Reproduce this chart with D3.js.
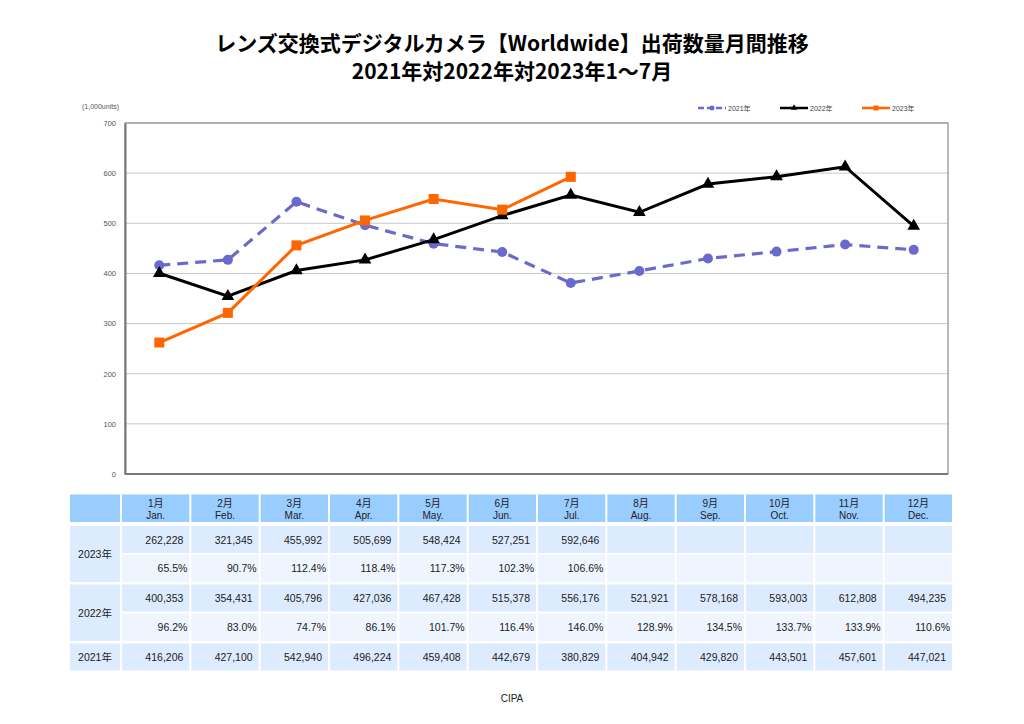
<!DOCTYPE html>
<html><head><meta charset="utf-8">
<script src="https://cdn.jsdelivr.net/npm/d3@7"></script>
<style>
body{margin:0;background:#fff;}
svg{display:block;}
</style></head>
<body><svg id="c" width="1024" height="724"></svg>
<script>
const monthsJa = ["1月","2月","3月","4月","5月","6月","7月","8月","9月","10月","11月","12月"];
const monthsEn = ["Jan.","Feb.","Mar.","Apr.","May.","Jun.","Jul.","Aug.","Sep.","Oct.","Nov.","Dec."];
const v2021 = [416206,427100,542940,496224,459408,442679,380829,404942,429820,443501,457601,447021];
const v2022 = [400353,354431,405796,427036,467428,515378,556176,521921,578168,593003,612808,494235];
const v2023 = [262228,321345,455992,505699,548424,527251,592646];
const p2022 = ["96.2%","83.0%","74.7%","86.1%","101.7%","116.4%","146.0%","128.9%","134.5%","133.7%","133.9%","110.6%"];
const p2023 = ["65.5%","90.7%","112.4%","118.4%","117.3%","102.3%","106.6%"];
const yTicks = [0,100,200,300,400,500,600,700];
const seriesNames = ["2021年","2022年","2023年"];
const titleLines = ["レンズ交換式デジタルカメラ【Worldwide】出荷数量月間推移","2021年対2022年対2023年1～7月"];

const svg = d3.select("#c");
const FONT = "'Liberation Sans','Noto Sans CJK JP',sans-serif";
const JFONT = "'Noto Sans CJK JP',sans-serif";

// Title
svg.selectAll("text.title").data(titleLines).join("text")
  .attr("x",512).attr("y",(d,i)=>51+i*28)
  .attr("text-anchor","middle")
  .style("font-family",JFONT).style("font-weight","bold").style("font-size","21px")
  .text(d=>d);

// Plot
const L=125,R=948,T=123,B=474;
const x = d3.scaleBand().domain(d3.range(12)).range([L,R]);
const y = d3.scaleLinear().domain([0,700]).range([B,T]);
const cx = i=>x(i)+x.bandwidth()/2;

// gridlines
svg.append("g").selectAll("line").data(yTicks.filter(t=>t>0)).join("line")
  .attr("x1",L).attr("x2",R).attr("y1",d=>y(d)).attr("y2",d=>y(d))
  .attr("stroke","#c8c8c8").attr("stroke-width",1);
// border
svg.append("rect").attr("x",L).attr("y",T).attr("width",R-L).attr("height",B-T)
  .attr("fill","none").attr("stroke","#8c8c8c").attr("stroke-width",1.2);
// y-axis
const ya = svg.append("g").attr("transform",`translate(${L},0)`)
  .call(d3.axisLeft(y).tickValues(yTicks).tickSize(0).tickPadding(9));
ya.select(".domain").attr("stroke","#777").attr("stroke-width",2);
ya.selectAll("text").style("font-family",FONT).style("font-size","7.5px").attr("fill","#555");
svg.append("line").attr("x1",L).attr("x2",R).attr("y1",B).attr("y2",B).attr("stroke","#777").attr("stroke-width",2);

svg.append("text").attr("x",82).attr("y",109).style("font-family",FONT).style("font-size","7px").attr("fill","#555").text("(1,000units)");

const line = d3.line().x((d,i)=>cx(i)).y(d=>y(d/1000));
const C21="#6a6acd", C22="#000", C23="#ff6600";

svg.append("path").datum(v2021).attr("d",line).attr("fill","none")
  .attr("stroke",C21).attr("stroke-width",3.2).attr("stroke-dasharray","11,7");
svg.append("path").datum(v2022).attr("d",line).attr("fill","none")
  .attr("stroke",C22).attr("stroke-width",3);
svg.append("path").datum(v2023).attr("d",line).attr("fill","none")
  .attr("stroke",C23).attr("stroke-width",3);

svg.append("g").selectAll("circle").data(v2021).join("circle")
  .attr("cx",(d,i)=>cx(i)).attr("cy",d=>y(d/1000)).attr("r",5).attr("fill",C21);
const tri = d3.symbol().type(d3.symbolTriangle).size(70);
svg.append("g").selectAll("path").data(v2022).join("path")
  .attr("d",tri).attr("transform",(d,i)=>`translate(${cx(i)},${y(d/1000)})`).attr("fill",C22);
svg.append("g").selectAll("rect").data(v2023).join("rect")
  .attr("x",(d,i)=>cx(i)-5).attr("y",d=>y(d/1000)-5).attr("width",10).attr("height",10).attr("fill",C23);

// legend
const lg = [{n:seriesNames[0],c:C21,x:698,dash:"6,3",m:"c"},{n:seriesNames[1],c:C22,x:780,dash:null,m:"t"},{n:seriesNames[2],c:C23,x:862,dash:null,m:"s"}];
const lgG = svg.append("g");
lg.forEach(d=>{
  const l = lgG.append("line").attr("x1",d.x).attr("x2",d.x+28).attr("y1",108).attr("y2",108).attr("stroke",d.c).attr("stroke-width",2.5);
  if(d.dash) l.attr("stroke-dasharray",d.dash);
  if(d.m==="c") lgG.append("circle").attr("cx",d.x+14).attr("cy",108).attr("r",2.5).attr("fill",d.c);
  if(d.m==="t") lgG.append("path").attr("d",d3.symbol().type(d3.symbolTriangle).size(18)).attr("transform",`translate(${d.x+14},108)`).attr("fill",d.c);
  if(d.m==="s") lgG.append("rect").attr("x",d.x+11.5).attr("y",105.5).attr("width",5).attr("height",5).attr("fill",d.c);
  lgG.append("text").attr("x",d.x+30).attr("y",110.5).style("font-family",FONT).style("font-size","7px").attr("fill","#444").text(d.n);
});

// Table
const HDR="#99ccff", VAL="#ddebff", PCT="#eef5ff";
const tx = d3.scaleBand().domain(d3.range(12)).range([121,953]).paddingInner(0);
const colX = i=>tx(i)+1, colW = tx.bandwidth()-2;
const rows = [
  {y:494.5,h:27.5},  // header
  {y:526,h:27},      // 2023 val
  {y:554.5,h:27.5},  // 2023 pct
  {y:584.5,h:27},    // 2022 val
  {y:613.5,h:27.5},  // 2022 pct
  {y:643.5,h:27}     // 2021
];
const tg = svg.append("g");
const fmt = d3.format(",");
// first column
tg.append("rect").attr("x",70).attr("y",rows[0].y).attr("width",50).attr("height",rows[0].h).attr("fill",HDR);
tg.append("rect").attr("x",70).attr("y",rows[1].y).attr("width",50).attr("height",rows[2].y+rows[2].h-rows[1].y).attr("fill",VAL);
tg.append("rect").attr("x",70).attr("y",rows[3].y).attr("width",50).attr("height",rows[4].y+rows[4].h-rows[3].y).attr("fill",VAL);
tg.append("rect").attr("x",70).attr("y",rows[5].y).attr("width",50).attr("height",rows[5].h).attr("fill",VAL);
const lbl = [{t:seriesNames[2],y:(rows[1].y+rows[2].y+rows[2].h)/2},{t:seriesNames[1],y:(rows[3].y+rows[4].y+rows[4].h)/2},{t:seriesNames[0],y:rows[5].y+rows[5].h/2}];
tg.selectAll("text.lbl").data(lbl).join("text").attr("x",95).attr("y",d=>d.y+4)
  .attr("text-anchor","middle").style("font-family",FONT).style("font-size","10.5px").attr("fill","#222").text(d=>d.t);

const rowFill=[HDR,VAL,PCT,VAL,PCT,VAL];
rows.forEach((r,ri)=>{
  tg.append("g").selectAll("rect").data(d3.range(12)).join("rect")
    .attr("x",i=>colX(i)).attr("y",r.y).attr("width",colW).attr("height",r.h).attr("fill",rowFill[ri]);
});
// header text
tg.append("g").selectAll("text").data(d3.range(12)).join("text")
  .attr("x",i=>colX(i)+colW/2).attr("y",rows[0].y+12).attr("text-anchor","middle")
  .style("font-family",FONT).style("font-size","10px").attr("fill","#222").text(i=>monthsJa[i]);
tg.append("g").selectAll("text").data(d3.range(12)).join("text")
  .attr("x",i=>colX(i)+colW/2).attr("y",rows[0].y+24).attr("text-anchor","middle")
  .style("font-family",FONT).style("font-size","10px").attr("fill","#222").text(i=>monthsEn[i]);

function rowText(data, ri, f, pad){
  tg.append("g").selectAll("text").data(data).join("text")
    .attr("x",(d,i)=>colX(i)+colW-pad).attr("y",rows[ri].y+rows[ri].h/2+4).attr("text-anchor","end")
    .style("font-family",FONT).style("font-size","10.5px").attr("fill","#222").text(f);
}
rowText(v2023,1,d=>fmt(d),6);
rowText(p2023,2,d=>d,2);
rowText(v2022,3,d=>fmt(d),6);
rowText(p2022,4,d=>d,2);
rowText(v2021,5,d=>fmt(d),6);

svg.append("text").attr("x",512).attr("y",702).attr("text-anchor","middle")
  .style("font-family",FONT).style("font-size","10px").attr("fill","#222").text("CIPA");
</script></body></html>
